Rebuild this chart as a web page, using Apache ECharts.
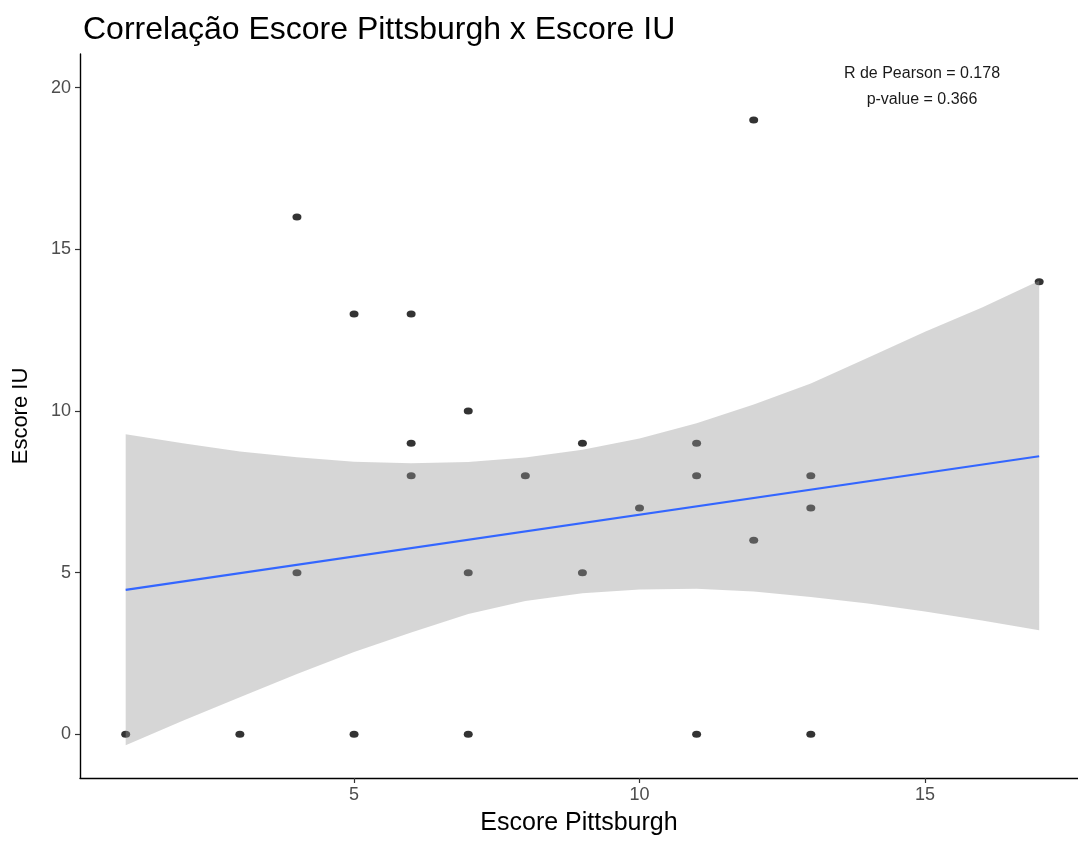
<!DOCTYPE html>
<html>
<head>
<meta charset="utf-8">
<title>Correlação Escore Pittsburgh x Escore IU</title>
<script src="https://cdn.jsdelivr.net/npm/echarts@6/dist/echarts.min.js"></script>
<style>
  html, body { margin: 0; padding: 0; background: #fff; }
  #chart { width: 1078px; height: 841px; }
</style>
</head>
<body>
<div id="chart"></div>
<script>
// ── Data ────────────────────────────────────────────────────
const pittsburgh = [1, 3, 4, 4, 5, 5, 6, 6, 6, 7, 7, 7, 8, 9, 9, 10, 11, 11, 11, 12, 12, 13, 13, 13, 17]
const escoreIU   = [0, 0, 16, 5, 13, 0, 13, 9, 8, 10, 5, 0, 8, 9, 5, 7, 9, 8, 0, 19, 6, 8, 7, 0, 14]

// lm fit and its 95% band (geom_smooth)
const fitX = [1, 17]
const fitY = [4.47, 8.60]
const bandX     = [1, 2, 3, 4, 5, 6, 7, 8, 9, 10, 11, 12, 13, 14, 15, 16, 17]
const bandUpper = [9.28, 9.0, 8.75, 8.57, 8.43, 8.38, 8.42, 8.56, 8.80, 9.15, 9.62, 10.2, 10.85, 11.65, 12.45, 13.2, 14.03]
const bandLower = [-0.34, 0.42, 1.15, 1.87, 2.55, 3.15, 3.72, 4.12, 4.36, 4.48, 4.5, 4.42, 4.25, 4.05, 3.8, 3.52, 3.22]

const xTicks = [5, 10, 15]
const yTicks = [0, 5, 10, 15, 20]
const annotation = ['R de Pearson = 0.178', 'p-value = 0.366']

const FONT = '"Liberation Sans", Arial, sans-serif'

const chart = echarts.init(document.getElementById('chart'), null, { renderer: 'canvas' })

const axisCommon = {
    type: 'value',
    splitLine: { show: false },
    axisLine: { show: true, onZero: false, lineStyle: { color: '#000', width: 1.4 } },
    axisTick: { show: true, length: 5, lineStyle: { color: '#333', width: 1.2 } },
    axisLabel: { color: '#4d4d4d', fontSize: 18, fontFamily: FONT },
    nameTextStyle: { color: '#000', fontFamily: FONT },
    nameLocation: 'middle',
}

const option = {
    backgroundColor: '#fff',
    animation: false,
    title: {
        text: 'Correlação Escore Pittsburgh x Escore IU',
        left: 78,
        top: 9,
        textStyle: { color: '#000', fontSize: 32, fontWeight: 'normal', fontFamily: FONT },
    },
    grid: { left: 80, right: 0, top: 54, bottom: 56, containLabel: false },
    xAxis: {
        ...axisCommon,
        name: 'Escore Pittsburgh',
        nameGap: 33,
        nameTextStyle: { ...axisCommon.nameTextStyle, fontSize: 25 },
        min: 0.2,
        max: 17.68,
        axisTick: { ...axisCommon.axisTick, customValues: xTicks },
        axisLabel: { ...axisCommon.axisLabel, customValues: xTicks, margin: 8 },
    },
    yAxis: {
        ...axisCommon,
        name: 'Escore IU',
        nameGap: 48,
        nameTextStyle: { ...axisCommon.nameTextStyle, fontSize: 22 },
        min: -1.35,
        max: 21.04,
        axisTick: { ...axisCommon.axisTick, customValues: yTicks },
        axisLabel: { ...axisCommon.axisLabel, customValues: yTicks, margin: 9 },
    },
    graphic: annotation.map((t, i) => ({
        type: 'text',
        x: 922,
        y: 74 + i * 26,
        style: {
            text: t,
            textAlign: 'center',
            textVerticalAlign: 'middle',
            fill: '#1a1a1a',
            font: '16px ' + FONT,
        },
        z: 10,
    })),
    series: [
        {
            name: 'pontos',
            type: 'scatter',
            symbol: 'circle',
            symbolSize: [9, 7],
            itemStyle: { color: '#000' },
            data: pittsburgh.map((x, i) => [x, escoreIU[i]]),
            z: 2,
        },
        {
            name: 'IC',
            type: 'custom',
            z: 3,
            silent: true,
            data: [[bandX[0], bandLower[0]]],
            renderItem: (params, api) => {
                const pts = bandX.map((x, i) => api.coord([x, bandUpper[i]]))
                for (let i = bandX.length - 1; i >= 0; i--) {
                    pts.push(api.coord([bandX[i], bandLower[i]]))
                }
                return {
                    type: 'polygon',
                    shape: { points: pts },
                    style: { fill: 'rgba(153,153,153,0.4)', stroke: null },
                }
            },
        },
        {
            name: 'lm',
            type: 'line',
            z: 4,
            symbol: 'none',
            lineStyle: { color: '#3366FF', width: 2.2 },
            data: fitX.map((x, i) => [x, fitY[i]]),
        },
    ],
}

chart.setOption(option)
</script>
</body>
</html>
